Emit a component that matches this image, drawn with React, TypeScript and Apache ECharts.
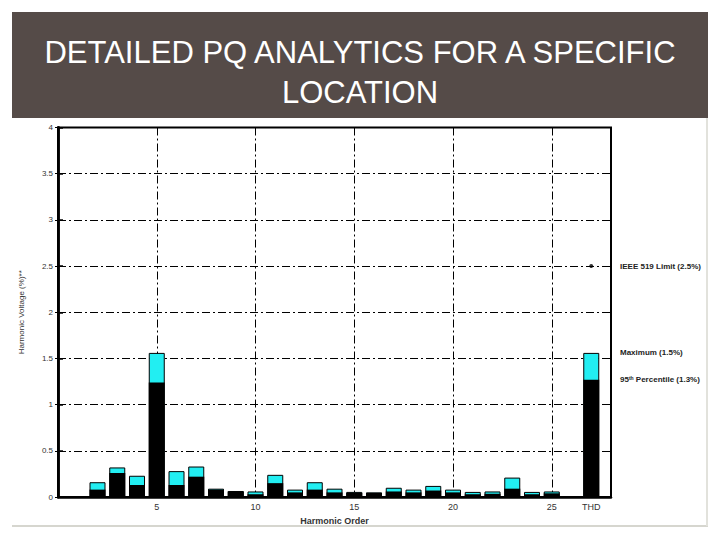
// Harmonic voltage bar chart (95th percentile vs maximum)
import * as echarts from 'echarts';
import type { EChartsOption } from 'echarts'
import { useEffect, useRef } from 'react'

const harmonics = [2, 3, 4, 5, 6, 7, 8, 9, 10, 11, 12, 13, 14, 15, 16, 17, 18, 19, 20, 21, 22, 23, 24, 25]
const maximum = [0.16, 0.32, 0.23, 1.56, 0.28, 0.33, 0.09, 0.065, 0.06, 0.24, 0.08, 0.16, 0.09, 0.055, 0.05, 0.1, 0.08, 0.12, 0.08, 0.055, 0.06, 0.21, 0.055, 0.06]
const percentile95 = [0.08, 0.26, 0.13, 1.24, 0.13, 0.22, 0.08, 0.06, 0.03, 0.15, 0.05, 0.08, 0.05, 0.045, 0.045, 0.06, 0.05, 0.07, 0.05, 0.03, 0.035, 0.09, 0.03, 0.04]
// THD sits two steps after harmonic 25
const thdOrder = 27
const thdMaximum = 1.56
const thdPercentile95 = 1.27
const ieeeLimit = 2.5
const xTickLabels = [5, 10, 15, 20, 25]
const titleLines = ['DETAILED PQ ANALYTICS FOR A SPECIFIC', 'LOCATION']

const dashDot = [8, 3, 2, 3]
const labelFont = 'Liberation Sans'

const App = () => {
  const chartRef = useRef<HTMLDivElement | null>(null)
  useEffect(() => {
    if (!chartRef.current) return
    const myChart = echarts.init(chartRef.current, null, { renderer: 'svg' })
    const maxData = harmonics.map((h, i) => [h, maximum[i]])
    maxData.push([thdOrder, thdMaximum])
    const p95Data = harmonics.map((h, i) => [h, percentile95[i]])
    p95Data.push([thdOrder, thdPercentile95])

    const titleFont = `normal 31px "${labelFont}"`
    const noteFont = `bold 8px "${labelFont}"`

    const option: EChartsOption = {
      animation: false,
      backgroundColor: '#fff',
      graphic: [
        { type: 'rect', z: -10, shape: { x: 12, y: 12, width: 696, height: 106 }, style: { fill: '#554b48' } },
        {
          type: 'text', x: 360, y: 52,
          style: { text: titleLines[0], fill: '#fff', font: titleFont, align: 'center', verticalAlign: 'middle' }
        },
        {
          type: 'text', x: 360, y: 92,
          style: { text: titleLines[1], fill: '#fff', font: titleFont, align: 'center', verticalAlign: 'middle' }
        },
        { type: 'line', shape: { x1: 12, y1: 526, x2: 708, y2: 526 }, style: { stroke: '#d6d6cf', lineWidth: 2 } },
        { type: 'line', shape: { x1: 707, y1: 118, x2: 707, y2: 526 }, style: { stroke: '#e2e2dc', lineWidth: 2 } },
        {
          type: 'text', x: 620, y: 266,
          style: { text: 'IEEE 519 Limit (2.5%)', fill: '#222', font: noteFont, verticalAlign: 'middle' }
        },
        {
          type: 'text', x: 620, y: 352,
          style: { text: 'Maximum (1.5%)', fill: '#222', font: noteFont, verticalAlign: 'middle' }
        },
        {
          type: 'text', x: 620, y: 379,
          style: {
            text: '95{sup|th} Percentile (1.3%)',
            fill: '#222',
            font: noteFont,
            verticalAlign: 'middle',
            rich: { sup: { fontSize: 5, verticalAlign: 'top', fontWeight: 'bold', fill: '#222' } }
          }
        }
      ],
      grid: {
        left: 58,
        right: 109,
        top: 127.5,
        bottom: 43,
        show: true,
        borderColor: '#000',
        borderWidth: 2
      },
      xAxis: [
        {
          type: 'value',
          min: 0,
          max: 28,
          interval: 1,
          name: 'Harmonic Order',
          nameLocation: 'middle',
          nameGap: 19,
          nameTextStyle: { fontSize: 9, fontWeight: 'bold', color: '#333', fontFamily: labelFont },
          axisLine: { lineStyle: { color: '#000', width: 2.5 } },
          axisTick: { show: false },
          splitLine: { show: false },
          axisLabel: {
            fontSize: 9,
            color: '#333',
            margin: 5,
            fontFamily: labelFont,
            formatter: (v: number) => (v === thdOrder ? 'THD' : xTickLabels.includes(v) ? String(v) : '')
          }
        },
        {
          type: 'value',
          position: 'top',
          min: 0,
          max: 28,
          interval: 5,
          axisLine: { show: false },
          axisTick: { show: false },
          axisLabel: { show: false },
          splitLine: { show: true, lineStyle: { color: '#000', width: 1, type: dashDot } }
        }
      ],
      yAxis: [
        {
          type: 'value',
          min: 0,
          max: 4,
          interval: 0.5,
          name: 'Harmonic Voltage (%)**',
          nameLocation: 'middle',
          nameGap: 33,
          nameTextStyle: { fontSize: 8, color: '#333', fontFamily: labelFont },
          axisLine: { show: true, lineStyle: { color: '#000', width: 2.5 } },
          axisTick: { show: true, length: 3, lineStyle: { color: '#000' } },
          axisLabel: { fontSize: 8, color: '#333', margin: 5, fontFamily: labelFont },
          splitLine: { show: true, lineStyle: { color: '#000', width: 1, type: dashDot } }
        },
        {
          type: 'value',
          position: 'right',
          min: 0,
          max: 4,
          interval: 0.5,
          axisLine: { show: true, lineStyle: { color: '#000', width: 2.5 } },
          axisTick: { show: true, length: 5, lineStyle: { color: '#000', width: 1.5 } },
          axisLabel: { show: false },
          splitLine: { show: false }
        }
      ],
      series: [
        {
          name: 'Maximum',
          type: 'bar',
          xAxisIndex: 0,
          yAxisIndex: 0,
          barWidth: 16,
          barGap: '-100%',
          itemStyle: { color: '#22eef2', borderColor: '#000', borderWidth: 1 },
          data: maxData
        },
        {
          name: '95th Percentile',
          type: 'bar',
          xAxisIndex: 0,
          yAxisIndex: 0,
          barWidth: 16,
          barGap: '-100%',
          itemStyle: { color: '#000' },
          data: p95Data
        },
        {
          name: 'IEEE 519 Limit',
          type: 'scatter',
          xAxisIndex: 0,
          yAxisIndex: 0,
          symbolSize: 4,
          itemStyle: { color: '#000' },
          data: [[thdOrder, ieeeLimit]]
        }
      ]
    }

    option && myChart.setOption(option)
    return () => {
      myChart.dispose()
    }
  }, [])
  return (
    <div ref={chartRef} style={{ position: 'absolute', left: 0, top: 0, width: '720px', height: '540px' }}></div>
  )
}
export default App
